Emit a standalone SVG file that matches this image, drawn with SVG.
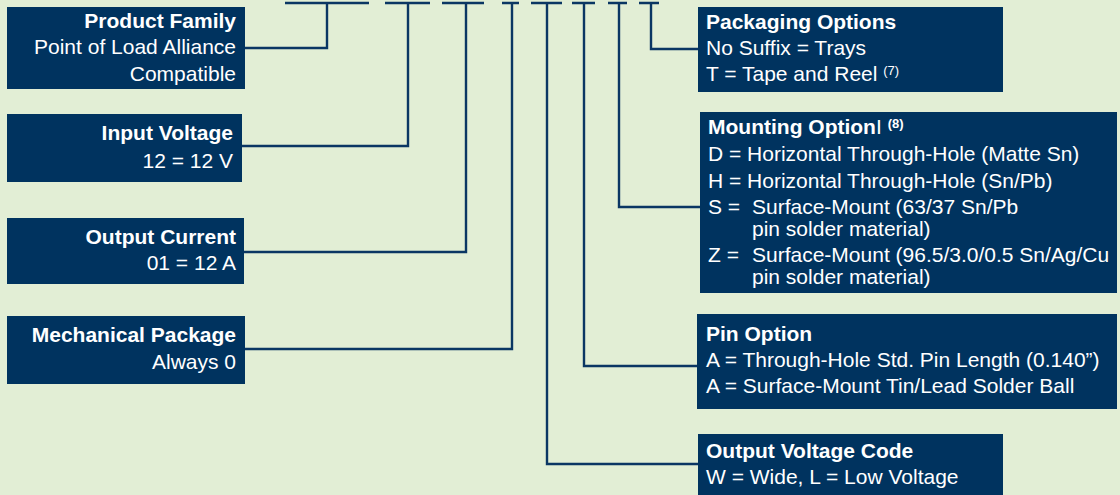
<svg xmlns="http://www.w3.org/2000/svg" width="1120" height="495" viewBox="0 0 1120 495">
<style>
.box{fill:#00335f}
.t{font-family:"Liberation Sans",Arial,sans-serif;font-size:21px;fill:#ffffff}
.b{font-weight:bold}
.r{text-anchor:end}
.sup{font-size:13px}
.ln{fill:none;stroke:#0a3663;stroke-width:2.4}
</style>
<rect width="1120" height="495" fill="#e2eed5"/>
<g id="connectors">
<path class="ln" d="M285,3H369M385,3H430M442,3H484M502,3H519M531,3H562M572,3H595M608,3H627M639,3H659"/>
<path class="ln" d="M327,3V48H245"/>
<path class="ln" d="M408,3V146H242"/>
<path class="ln" d="M466,3V252H244"/>
<path class="ln" d="M512,3V349H245"/>
<path class="ln" d="M547,3V464H698"/>
<path class="ln" d="M584,3V366H697"/>
<path class="ln" d="M619,3V207H700"/>
<path class="ln" d="M651,3V49H698"/>
</g>
<g id="product-family">
<rect class="box" x="7" y="7" width="238" height="82"/>
<text class="t b r" x="236" y="28">Product Family</text>
<text class="t r" x="236" y="54">Point of Load Alliance</text>
<text class="t r" x="236" y="81">Compatible</text>
</g>
<g id="input-voltage">
<rect class="box" x="7" y="114" width="235" height="68"/>
<text class="t b r" x="233" y="140">Input Voltage</text>
<text class="t r" x="233" y="168">12 = 12 V</text>
</g>
<g id="output-current">
<rect class="box" x="7" y="218" width="237" height="66"/>
<text class="t b r" x="236" y="244">Output Current</text>
<text class="t r" x="236" y="270">01 = 12 A</text>
</g>
<g id="mechanical-package">
<rect class="box" x="7" y="316" width="238" height="68"/>
<text class="t b r" x="236" y="342">Mechanical Package</text>
<text class="t r" x="236" y="369">Always 0</text>
</g>
<g id="packaging-options">
<rect class="box" x="698" y="7" width="305" height="85"/>
<text class="t b" x="706" y="29">Packaging Options</text>
<text class="t" x="706" y="55">No Suffix = Trays</text>
<text class="t" x="706" y="81">T = Tape and Reel <tspan class="sup" dy="-6">(7)</tspan></text>
</g>
<g id="mounting-option">
<rect class="box" x="700" y="112" width="417" height="181"/>
<text class="t" x="708" y="134"><tspan class="b">Mounting Option</tspan>I <tspan class="sup b" dy="-6">(8)</tspan></text>
<text class="t" x="708" y="161">D = Horizontal Through-Hole (Matte Sn)</text>
<text class="t" x="708" y="188">H = Horizontal Through-Hole (Sn/Pb)</text>
<text class="t" x="708" y="214">S =</text>
<text class="t" x="752" y="214">Surface-Mount (63/37 Sn/Pb</text>
<text class="t" x="752" y="236">pin solder material)</text>
<text class="t" x="708" y="262">Z =</text>
<text class="t" x="752" y="262">Surface-Mount (96.5/3.0/0.5 Sn/Ag/Cu</text>
<text class="t" x="752" y="284">pin solder material)</text>
</g>
<g id="pin-option">
<rect class="box" x="697" y="314" width="420" height="95"/>
<text class="t b" x="706" y="341">Pin Option</text>
<text class="t" x="706" y="367">A = Through-Hole Std. Pin Length (0.140”)</text>
<text class="t" x="706" y="393">A = Surface-Mount Tin/Lead Solder Ball</text>
</g>
<g id="output-voltage-code">
<rect class="box" x="698" y="434" width="305" height="61"/>
<text class="t b" x="706" y="458">Output Voltage Code</text>
<text class="t" x="706" y="484">W = Wide, L = Low Voltage</text>
</g>
</svg>
